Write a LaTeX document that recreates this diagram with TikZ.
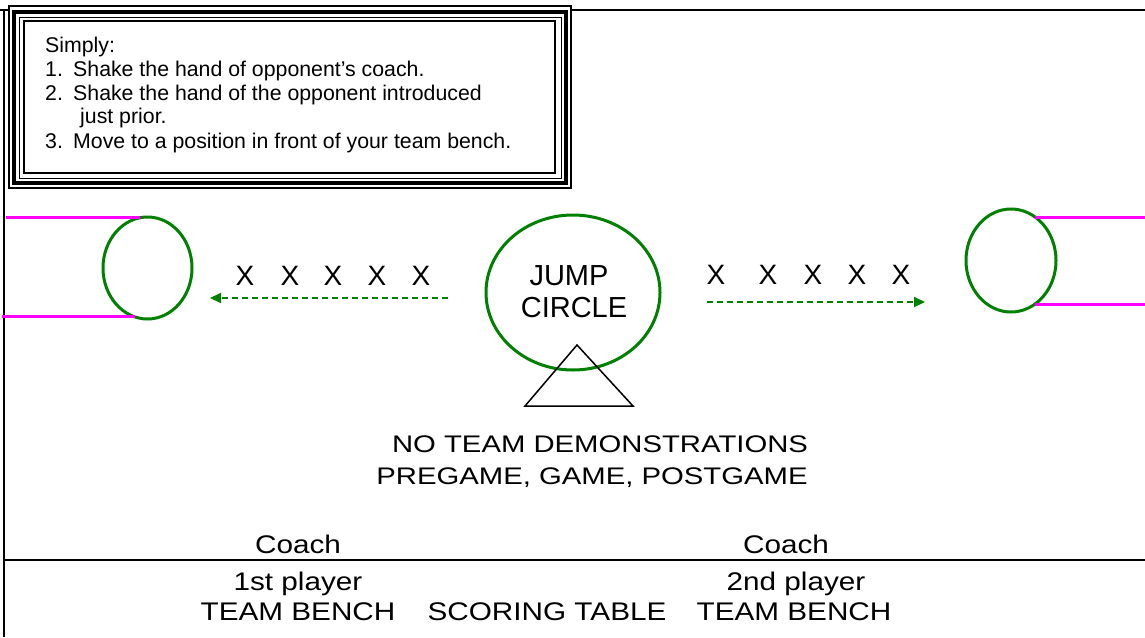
\documentclass[tikz,border=0pt]{standalone}
\usepackage{fontspec}
\setmainfont{Liberation Sans}
\newfontfamily\widefont[FakeStretch=1.22]{Liberation Sans}
\newfontfamily\benchfont[FakeStretch=1.165]{Liberation Sans}
\usetikzlibrary{shapes.geometric,arrows.meta}
\definecolor{fgreen}{RGB}{0,128,0}
\definecolor{mag}{RGB}{255,0,255}
\begin{document}
\begin{tikzpicture}[x=1pt,y=-1pt,
  frameline/.style={line width=2pt, black},
  boxtxt/.style={inner sep=0pt, anchor=base west, font=\fontsize{21.3}{24}\selectfont},
  xmark/.style={inner sep=0pt, anchor=base, font=\fontsize{28}{34}\selectfont},
  fieldtxt/.style={inner sep=0pt, anchor=base, font=\fontsize{29}{34}\selectfont},
  widetxt/.style={inner sep=0pt, anchor=base, font=\widefont\fontsize{24}{30}\selectfont},
  benchtxt/.style={inner sep=0pt, anchor=base, font=\benchfont\fontsize{25.5}{30}\selectfont},
  hoop/.style={ellipse, draw=fgreen, line width=3pt, inner sep=0pt},
  lane/.style={mag, line width=3pt},
  move/.style={fgreen, line width=2pt, dash pattern=on 6pt off 4pt, -{Triangle[length=11pt,width=10pt]}}]
\useasboundingbox (0,0) rectangle (1145,637);
\fill[white] (0,0) rectangle (1145,637);
% frame
\draw[line width=1.5pt] (0,10) -- (1145,10);
\draw[frameline] (4,10) -- (4,637);
\draw[frameline] (4,560) -- (1145,560);
% instruction box
\filldraw[fill=white, line width=1.2pt] (9,6) rectangle (571,188);
\draw[line width=3.5pt] (14,12) rectangle (566,183);
\draw[line width=1pt] (19,17) rectangle (561,178);
\draw[line width=2pt] (24,21) rectangle (555,173);
\node[boxtxt] (s0) at (45,52) {Simply:};
\node[boxtxt] (n1) at (45,76) {1.};
\node[boxtxt] (t1) at (73,76) {Shake the hand of opponent’s coach.};
\node[boxtxt] (n2) at (45,100) {2.};
\node[boxtxt] (t2) at (73,100) {Shake the hand of the opponent introduced};
\node[boxtxt] (t2b) at (80,123) {just prior.};
\node[boxtxt] (n3) at (45,148) {3.};
\node[boxtxt] (t3) at (73,148) {Move to a position in front of your team bench.};
% hoops
\node[hoop, minimum width=89pt, minimum height=102pt] (lc) at (147.5,268) {};
\node[hoop, minimum width=90pt, minimum height=103pt] (rc) at (1011,260.5) {};
\node[hoop, minimum width=174pt, minimum height=155pt] (jc) at (573,292.5) {};
% lane lines
\coordinate (l1a) at (6,217);  \coordinate (l1b) at (140,217);
\coordinate (l2a) at (2,316);  \coordinate (l2b) at (135,316);
\coordinate (r1a) at (1035,217); \coordinate (r1b) at (1145,217);
\coordinate (r2a) at (1035,304); \coordinate (r2b) at (1145,304);
\draw[lane] (l1a) -- (l1b);
\draw[lane] (l2a) -- (l2b);
\draw[lane] (r1a) -- (r1b);
\draw[lane] (r2a) -- (r2b);
% jump circle text
\node[fieldtxt] (jump) at (569,285) {JUMP};
\node[fieldtxt] (circ) at (574,317) {CIRCLE};
% triangle
\coordinate (ta) at (577,345);
\coordinate (tb) at (633,406);
\coordinate (tc) at (525,406);
\draw[line width=1.5pt] (ta) -- (tb) -- (tc) -- cycle;
% players
\foreach \i/\x in {1/245,2/290,3/333,4/377,5/421} {\node[xmark] (lx\i) at (\x,285) {X};}
\foreach \i/\x in {1/716,2/768,3/813,4/857,5/901} {\node[xmark] (rx\i) at (\x,284) {X};}
\coordinate (la1) at (448,298); \coordinate (la2) at (210,298);
\coordinate (ra1) at (707,302); \coordinate (ra2) at (925,302);
\draw[move] (la1) -- (la2);
\draw[move] (ra1) -- (ra2);
% message
\node[widetxt] (msg1) at (600,452) {NO TEAM DEMONSTRATIONS};
\node[widetxt] (msg2) at (592,484) {PREGAME, GAME, POSTGAME};
% bench area
\node[benchtxt] (c1) at (298,553) {Coach};
\node[benchtxt] (c2) at (786,553) {Coach};
\node[benchtxt] (p1) at (298,590) {1st player};
\node[benchtxt] (p2) at (796,590) {2nd player};
\node[benchtxt] (b1) at (298,620) {TEAM BENCH};
\node[benchtxt] (st) at (547,620) {SCORING TABLE};
\node[benchtxt] (b2) at (794,620) {TEAM BENCH};
\end{tikzpicture}
\end{document}
